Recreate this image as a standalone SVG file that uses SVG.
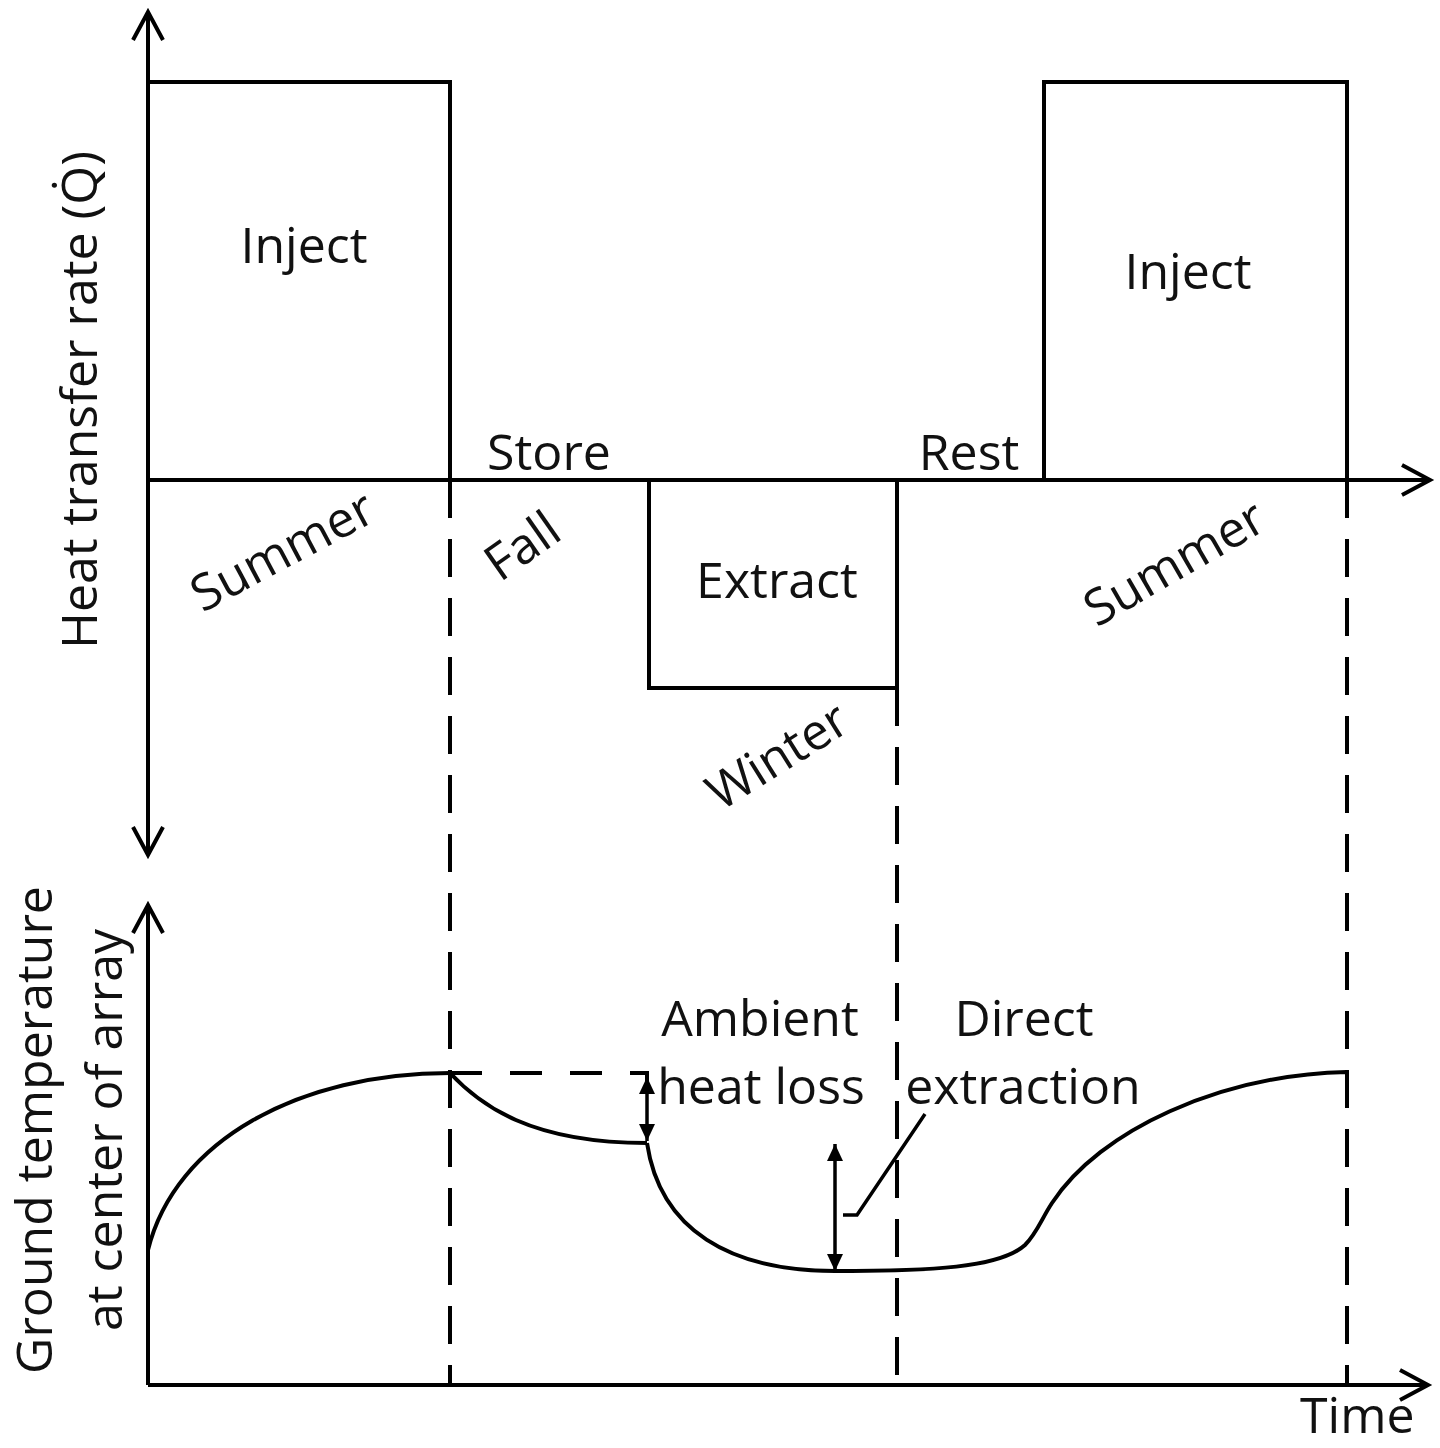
<svg xmlns="http://www.w3.org/2000/svg" width="1440" height="1448" viewBox="0 0 1440 1448">
<style>
.ln{fill:none;stroke:#000;stroke-width:4}
.dash{fill:none;stroke:#000;stroke-width:4;stroke-dasharray:38 21}
.thin{fill:none;stroke:#000;stroke-width:3.5}
text{font-family:"Open Sans","Liberation Sans",sans-serif;font-size:50px;fill:#111}
.c{text-anchor:middle}
</style>
<defs>
<marker id="open" markerUnits="userSpaceOnUse" markerWidth="40" markerHeight="40" viewBox="-32 -20 36 40" refX="0" refY="0" orient="auto-start-reverse">
<path d="M-28,-15 L0,0 L-28,15" fill="none" stroke="#000" stroke-width="4"/>
</marker>
<marker id="solid" markerUnits="userSpaceOnUse" markerWidth="24" markerHeight="24" viewBox="-20 -12 22 24" refX="0" refY="0" orient="auto-start-reverse">
<path d="M-17,-8 L0,0 L-17,8 Z" fill="#000"/>
</marker>
</defs>
<rect width="1440" height="1448" fill="#fff"/>

<g id="axes">
<path class="ln" d="M148,855 V12" marker-start="url(#open)" marker-end="url(#open)"/>
<path class="ln" d="M148,480 H1430" marker-end="url(#open)"/>
<path class="ln" d="M148,1385 V905" marker-end="url(#open)"/>
<path class="ln" d="M148,1385 H1428" marker-end="url(#open)"/>
</g>

<g id="inject-left">
<path class="ln" d="M148,82 H450 V480"/>
<text class="c" x="304" y="263">Inject</text>
</g>
<g id="inject-right">
<path class="ln" d="M1044,480 V82 H1347 V480"/>
<text class="c" x="1188" y="289">Inject</text>
</g>
<g id="extract">
<path class="ln" d="M649,480 V688 H897 V480"/>
<text class="c" x="777" y="598">Extract</text>
</g>

<g id="phase-labels">
<text class="c" x="549" y="470">Store</text>
<text class="c" x="969" y="470">Rest</text>
<text class="c" transform="translate(283,552) rotate(-28)" y="16">Summer</text>
<text class="c" transform="translate(523,547) rotate(-35)" y="16">Fall</text>
<text class="c" transform="translate(778,757) rotate(-32)" y="16">Winter</text>
<text class="c" transform="translate(1175,564) rotate(-30)" y="16">Summer</text>
</g>

<g id="axis-labels">
<text class="c" transform="translate(97,400) rotate(-90)">Heat transfer rate (Q̇)</text>
<text class="c" transform="translate(52,1130) rotate(-90)">Ground temperature</text>
<text class="c" transform="translate(122,1130) rotate(-90)">at center of array</text>
<text x="1300" y="1433">Time</text>
</g>

<g id="connectors">
<path class="dash" d="M450,480 V1385"/>
<path class="dash" d="M897,688 V1385"/>
<path class="dash" d="M1347,480 V1385"/>
<path class="dash" style="stroke-dasharray:32 28" d="M450,1073 H647 V1085"/>
</g>

<g id="temperature-curve">
<path class="ln" d="M148,1250 C175,1140 300,1073 450,1073"/>
<path class="ln" d="M450,1073 C480,1105 530,1143 647,1143"/>
<path class="ln" d="M647,1143 C660,1230 730,1271 835,1271 C930,1271 1000,1268 1025,1245 C1037,1233 1042,1218 1052,1203 C1100,1130 1220,1075 1347,1072 V1082"/>
</g>

<g id="ambient-heat-loss">
<path class="thin" d="M647,1077 V1141" marker-start="url(#solid)" marker-end="url(#solid)"/>
<text class="c" x="760" y="1036">Ambient</text>
<text class="c" x="761" y="1104">heat loss</text>
</g>
<g id="direct-extraction">
<path class="thin" d="M835,1144 V1271" marker-start="url(#solid)" marker-end="url(#solid)"/>
<path class="thin" d="M843,1215 H857 L925,1114"/>
<text class="c" x="1024" y="1036">Direct</text>
<text class="c" x="1023" y="1104">extraction</text>
</g>
</svg>
